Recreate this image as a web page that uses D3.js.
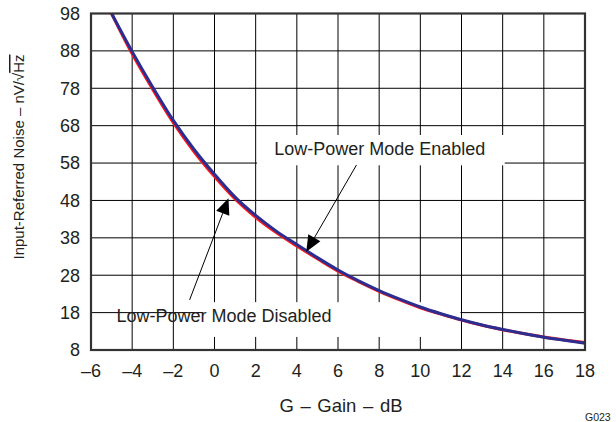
<!DOCTYPE html>
<html>
<head>
<meta charset="utf-8">
<script src="https://cdn.jsdelivr.net/npm/d3@7"></script>
<style>
  html, body { margin: 0; padding: 0; background: #fff; }
  svg { display: block; font-family: "Liberation Sans", Arial, Helvetica, sans-serif; }
</style>
</head>
<body>
<svg id="chart" width="616" height="422"></svg>
<script>
// ---- data ----
const gainDb = [-5, -4, -3, -2, -1, 0, 1, 2, 3, 4, 5, 6, 7, 8, 9, 10, 11, 12, 13, 14, 15, 16, 17, 18];
const noiseEnabled  = [98, 87.8, 78.3, 69.4, 61.7, 55.0, 48.9, 44.0, 39.8, 36.2, 32.7, 29.4, 26.5, 23.9, 21.6, 19.5, 17.7, 16.1, 14.7, 13.5, 12.4, 11.4, 10.6, 9.8];
const noiseDisabled = [98, 87.2, 77.7, 68.8, 61.1, 54.4, 48.4, 43.5, 39.4, 35.8, 32.4, 29.1, 26.3, 23.7, 21.4, 19.3, 17.6, 16.0, 14.6, 13.4, 12.4, 11.5, 10.7, 10.0];
const xTicks = [-6, -4, -2, 0, 2, 4, 6, 8, 10, 12, 14, 16, 18];
const yTicks = [8, 18, 28, 38, 48, 58, 68, 78, 88, 98];
const xTitle = "G \u2013 Gain \u2013 dB";
const yTitleMain = "Input-Referred Noise \u2013 nV/";
const figId = "G023";
// annotations in data units
const notes = [
  { text: "Low-Power Mode Enabled",  cx: 8.03, base: 60.2, box: [2.07, 14.1, 65.5, 57.4], from: [6.9, 57.5], tip: [4.46, 34.3] },
  { text: "Low-Power Mode Disabled", cx: 0.46, base: 15.6, box: [-0.55, 11.95, 20.8, 11.5], from: [-1.21, 21.4], tip: [0.68, 48.6] }
];

// ---- layout ----
const svg = d3.select("#chart");
const x = d3.scaleLinear().domain([-6, 18]).range([91, 585]);
const y = d3.scaleLinear().domain([8, 98]).range([350, 13.5]);

// grid
const grid = svg.append("g").attr("stroke", "#000").attr("stroke-width", 1);
grid.selectAll("line.v").data(xTicks.slice(1, -1)).join("line")
  .attr("x1", d => x(d)).attr("x2", d => x(d))
  .attr("y1", y(8)).attr("y2", y(98));
grid.selectAll("line.h").data(yTicks.slice(1, -1)).join("line")
  .attr("x1", x(-6)).attr("x2", x(18))
  .attr("y1", d => y(d)).attr("y2", d => y(d));

// annotation boxes (white) masking grid
svg.append("g").selectAll("rect").data(notes).join("rect")
  .attr("x", d => x(d.box[0])).attr("y", d => y(d.box[2]))
  .attr("width", d => x(d.box[1]) - x(d.box[0]))
  .attr("height", d => y(d.box[3]) - y(d.box[2]))
  .attr("fill", "#fff");

// curves
const line = d3.line().x((d, i) => x(gainDb[i])).y(d => y(d)).curve(d3.curveMonotoneX);
svg.append("path").datum(noiseDisabled).attr("d", line)
  .attr("fill", "none").attr("stroke", "#ff1a1a").attr("stroke-width", 3).attr("stroke-linejoin", "round");
svg.append("path").datum(noiseEnabled).attr("d", line)
  .attr("fill", "none").attr("stroke", "#2b2d90").attr("stroke-width", 3).attr("stroke-linejoin", "round");

// frame
svg.append("rect")
  .attr("x", x(-6)).attr("y", y(98))
  .attr("width", x(18) - x(-6)).attr("height", y(8) - y(98))
  .attr("fill", "none").attr("stroke", "#333").attr("stroke-width", 2.2);

// tick labels
svg.append("g").selectAll("text").data(yTicks).join("text")
  .attr("x", 80).attr("y", d => y(d)).attr("dy", "0.35em")
  .attr("text-anchor", "end").attr("font-size", 18).attr("fill", "#231f20")
  .text(d => String(d));
svg.append("g").selectAll("text").data(xTicks).join("text")
  .attr("x", d => x(d)).attr("y", 377)
  .attr("text-anchor", "middle").attr("font-size", 18).attr("fill", "#231f20")
  .text(d => (d < 0 ? "\u2013" + Math.abs(d) : String(d)));

// axis titles
svg.append("text").attr("x", 341).attr("y", 412)
  .attr("text-anchor", "middle").attr("font-size", 18.5).attr("fill", "#231f20")
  .attr("word-spacing", 1.5)
  .text(xTitle);
const yt = svg.append("text")
  .attr("transform", "translate(24,157) rotate(-90)")
  .attr("text-anchor", "middle").attr("font-size", 15).attr("fill", "#231f20");
yt.append("tspan").text(yTitleMain);
yt.append("tspan").text("\u221A");
yt.append("tspan").attr("text-decoration", "overline").style("text-decoration", "overline").text("Hz");

svg.append("text").attr("x", 585).attr("y", 421)
  .attr("font-size", 10.5).attr("fill", "#231f20").text(figId);

// annotation texts
svg.append("g").selectAll("text").data(notes).join("text")
  .attr("x", d => x(d.cx)).attr("y", d => y(d.base))
  .attr("text-anchor", "middle").attr("font-size", 18).attr("fill", "#231f20")
  .text(d => d.text);

// arrows
const ag = svg.append("g");
notes.forEach(n => {
  const x0 = x(n.from[0]), y0 = y(n.from[1]);
  const x1 = x(n.tip[0]), y1 = y(n.tip[1]);
  const dx = x1 - x0, dy = y1 - y0, L = Math.hypot(dx, dy);
  const ux = dx / L, uy = dy / L;
  const hl = 16, hw = 7;
  const bx = x1 - ux * hl, by = y1 - uy * hl;
  ag.append("line").attr("x1", x0).attr("y1", y0).attr("x2", bx).attr("y2", by)
    .attr("stroke", "#000").attr("stroke-width", 1);
  ag.append("path")
    .attr("d", `M${x1},${y1}L${bx - uy * hw},${by + ux * hw}L${bx + uy * hw},${by - ux * hw}Z`)
    .attr("fill", "#000");
});
</script>
</body>
</html>
